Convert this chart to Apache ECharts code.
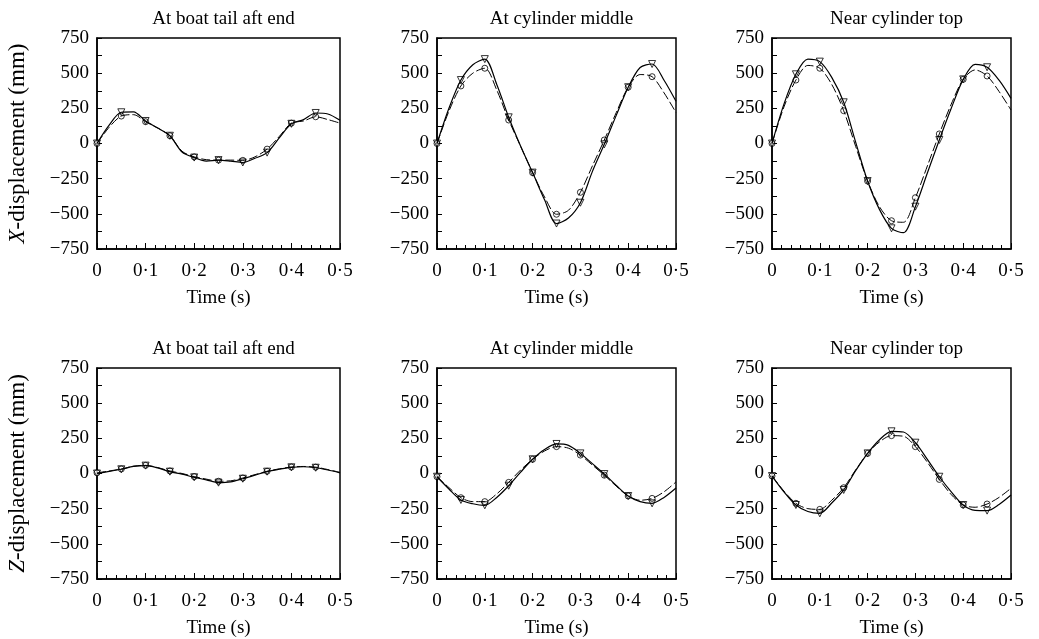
<!DOCTYPE html>
<html>
<head>
<meta charset="utf-8">
<script src="https://cdn.jsdelivr.net/npm/echarts@6/dist/echarts.min.js"></script>
<style>
html,body{margin:0;padding:0;background:#fff;}
#chart{width:1039px;height:639px;}
</style>
</head>
<body>
<div id="chart"></div>
<script>
// time samples (s)
var times = [0,0.025,0.05,0.075,0.1,0.125,0.15,0.175,0.2,0.225,0.25,0.275,0.3,0.325,0.35,0.375,0.4,0.425,0.45,0.475,0.5];
var titles = ['At boat tail aft end','At cylinder middle','Near cylinder top'];
var yTicks = [-750,-500,-250,0,250,500,750];
var xTicks = ['0','0·1','0·2','0·3','0·4','0·5'];

// X-displacement (mm), solid line with triangles / dashed line with circles
var xTailSolid = [0,130,222,225,160,110,55,-60,-100,-125,-118,-125,-135,-105,-65,40,140,170,217,210,165];
var xTailDash  = [0,115,195,205,155,110,55,-55,-95,-115,-118,-118,-120,-95,-40,50,145,160,190,170,145];
var xMidSolid  = [0,250,451,560,600,420,186,-20,-207,-400,-569,-530,-421,-200,-6,200,400,540,565,450,300];
var xMidDash   = [0,230,409,500,535,380,167,-20,-207,-380,-503,-475,-347,-160,25,220,400,490,475,360,220];
var xTopSolid  = [0,280,492,600,582,470,293,10,-267,-470,-603,-634,-449,-210,25,250,456,563,542,450,321];
var xTopDash   = [0,260,451,555,535,420,233,-20,-267,-450,-549,-560,-385,-160,68,280,456,523,480,370,238];

// Z-displacement (mm)
var zTailSolid = [0,15,30,50,56,40,13,-5,-27,-45,-65,-60,-37,-12,13,30,44,48,41,25,5];
var zTailDash  = [5,18,32,52,58,42,18,0,-22,-40,-55,-52,-32,-8,16,33,46,50,45,28,8];
var zMidSolid  = [-23,-110,-188,-215,-226,-170,-87,10,101,170,210,200,143,70,-4,-85,-160,-200,-212,-170,-103];
var zMidDash   = [-23,-100,-172,-200,-200,-145,-63,25,101,160,191,180,131,60,-12,-90,-160,-190,-177,-130,-60];
var zTopSolid  = [-18,-130,-224,-270,-283,-210,-117,20,143,240,300,295,219,100,-23,-130,-224,-262,-264,-220,-153];
var zTopDash   = [-18,-125,-212,-250,-255,-190,-101,25,143,225,269,265,191,80,-42,-150,-224,-240,-217,-170,-105];

var panels = [
  [xTailSolid, xTailDash], [xMidSolid, xMidDash], [xTopSolid, xTopDash],
  [zTailSolid, zTailDash], [zMidSolid, zMidDash], [zTopSolid, zTopDash]
];

var font = 'Liberation Serif';
var fs = 19;
var lefts = [97, 437, 772];
var widths = [243, 239, 239];
var tops = [38, 368];
var h = 211;

function pairs(vals) {
  return times.map(function (t, i) { return [t, vals[i]]; });
}
// markers every 0.05 s, up to 0.45 s
function marks(vals) {
  var out = [];
  times.forEach(function (t, i) {
    if (i % 2 == 0 && i < times.length - 1) out.push([t, vals[i]]);
  });
  return out;
}

var grid = [], xAxis = [], yAxis = [], series = [], title = [];
for (var p = 0; p < 6; p++) {
  var col = p % 3, row = Math.floor(p / 3);
  grid.push({
    left: lefts[col], top: tops[row], width: widths[col], height: h,
    show: true, borderColor: '#000', borderWidth: 1.5, backgroundColor: 'transparent'
  });
  title.push({
    text: titles[col],
    left: lefts[col] + widths[col] / 2,
    top: tops[row] - 33,
    textAlign: 'center',
    textStyle: {fontFamily: font, fontSize: fs, fontWeight: 'normal', color: '#000'}
  });
  xAxis.push({
    gridIndex: p, type: 'value', min: 0, max: 0.5, interval: 0.1,
    name: 'Time (s)', nameLocation: 'middle', nameGap: 40,
    nameTextStyle: {fontFamily: font, fontSize: fs, color: '#000'},
    axisLine: {show: true, onZero: false, lineStyle: {color: '#000', width: 1.5}},
    axisTick: {show: true, inside: true, length: 6, lineStyle: {color: '#000', width: 1}},
    minorTick: {show: true, splitNumber: 5, length: 4, lineStyle: {color: '#000', width: 1}},
    splitLine: {show: false},
    axisLabel: {
      margin: 13, fontFamily: font, fontSize: fs, color: '#000',
      formatter: function (v) { return xTicks[Math.round(v * 10)]; }
    }
  });
  var yName = row == 0 ? '{i|X}{n|-displacement (mm)}' : '{i|Z}{n|-displacement (mm)}';
  yAxis.push({
    gridIndex: p, type: 'value', min: yTicks[0], max: yTicks[yTicks.length - 1], interval: 250,
    name: col == 0 ? yName : '', nameLocation: 'middle', nameGap: 68, nameRotate: 90,
    nameTextStyle: {
      fontFamily: font, fontSize: 23, color: '#000',
      rich: {
        i: {fontFamily: font, fontSize: 23, fontStyle: 'italic', color: '#000'},
        n: {fontFamily: font, fontSize: 23, color: '#000'}
      }
    },
    axisLine: {show: true, onZero: false, lineStyle: {color: '#000', width: 1.5}},
    axisTick: {show: true, inside: true, length: 5, lineStyle: {color: '#000', width: 1}},
    minorTick: {show: true, splitNumber: 2, length: 5, lineStyle: {color: '#000', width: 1}},
    splitLine: {show: false},
    axisLabel: {
      margin: 8, fontFamily: font, fontSize: fs, color: '#000',
      formatter: function (v) { return v < 0 ? '\u2212' + Math.abs(v) : String(v); }
    }
  });

  var solid = panels[p][0], dash = panels[p][1];
  series.push({
    type: 'line', xAxisIndex: p, yAxisIndex: p, data: pairs(solid),
    smooth: 0.3, showSymbol: false, silent: true,
    lineStyle: {color: '#000', width: 1.2, type: 'solid'}
  });
  series.push({
    type: 'line', xAxisIndex: p, yAxisIndex: p, data: pairs(dash),
    smooth: 0.3, showSymbol: false, silent: true,
    lineStyle: {color: '#000', width: 1, type: [9, 3]}
  });
  series.push({
    type: 'scatter', xAxisIndex: p, yAxisIndex: p, data: marks(solid),
    symbol: 'triangle', symbolRotate: 180, symbolSize: 7,
    itemStyle: {color: '#fff', borderColor: '#000', borderWidth: 1}
  });
  series.push({
    type: 'scatter', xAxisIndex: p, yAxisIndex: p, data: marks(dash),
    symbol: 'circle', symbolSize: 6,
    itemStyle: {color: 'rgba(255,255,255,0)', borderColor: '#000', borderWidth: 1}
  });
}

var myChart = echarts.init(document.getElementById('chart'));
myChart.setOption({
  backgroundColor: '#fff',
  animation: false,
  title: title,
  grid: grid,
  xAxis: xAxis,
  yAxis: yAxis,
  series: series
});
</script>
</body>
</html>
